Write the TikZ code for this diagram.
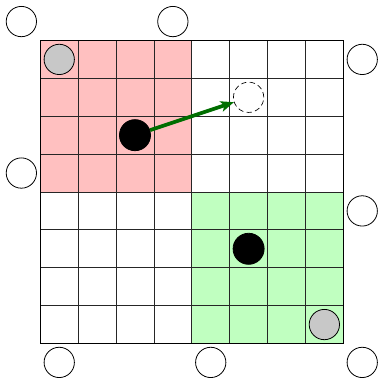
\documentclass[tikz,border=0pt]{standalone}
\usetikzlibrary{arrows.meta}
\definecolor{redfill}{RGB}{255,192,192}
\definecolor{greenfill}{RGB}{192,255,192}
\definecolor{grayfill}{RGB}{200,200,200}
\definecolor{arrowgreen}{RGB}{0,110,0}
\tikzset{
  token/.style={circle, draw=black, line width=0.6pt, minimum size=0.8cm, inner sep=0pt},
  outer/.style={token, fill=white},
  grey/.style={token, fill=grayfill},
  agent/.style={token, fill=black, minimum size=0.82cm},
  ghost/.style={token, dash pattern=on 4pt off 2.5pt, line width=0.5pt},
  gridline/.style={line width=0.6pt, black!85},
  move/.style={arrowgreen, line width=2.8pt, -{Stealth[length=10pt,width=8pt,inset=2.5pt]}}
}
\begin{document}
\begin{tikzpicture}[x=1cm,y=-1cm]
\useasboundingbox (-1.064,-1.069) rectangle (8.969,8.937);
\fill[redfill] (0,0) rectangle (4,4);
\fill[greenfill] (4,4) rectangle (8,8);
\draw[gridline] (0,0) grid (8,8);
\draw[black, line width=0.7pt] (0,0) rectangle (8,8);
% outer circles
\node[outer] (o1) at (-0.5,-0.5) {};
\node[outer] (o2) at (3.5,-0.5) {};
\node[outer] (o3) at (8.5,0.5) {};
\node[outer] (o4) at (-0.5,3.5) {};
\node[outer] (o5) at (8.5,4.5) {};
\node[outer] (o6) at (0.5,8.5) {};
\node[outer] (o7) at (4.5,8.5) {};
\node[outer] (o8) at (8.5,8.5) {};
% grey tokens
\node[grey] (g1) at (0.5,0.5) {};
\node[grey] (g2) at (7.5,7.5) {};
% agents
\node[agent] (a1) at (2.5,2.5) {};
\node[agent] (a2) at (5.5,5.5) {};
\node[ghost] (d1) at (5.5,1.5) {};
\draw[move] (a1) -- (d1);
\end{tikzpicture}
\end{document}
